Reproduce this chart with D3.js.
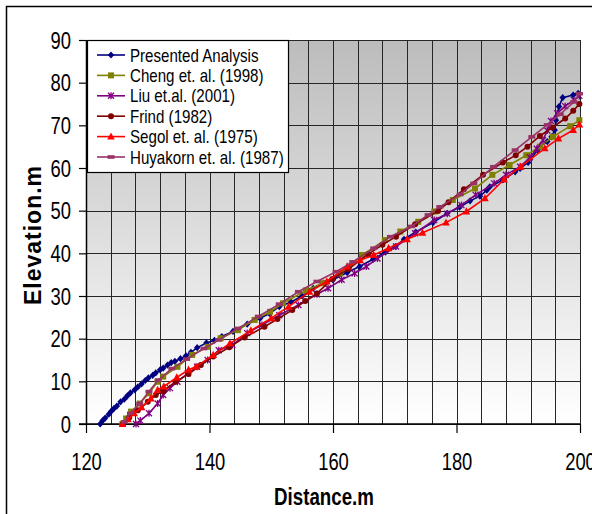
<!DOCTYPE html>
<html>
<head>
<meta charset="utf-8">
<script src="https://cdn.jsdelivr.net/npm/d3@7"></script>
<style>
  html, body { margin: 0; padding: 0; background: #fff; }
  svg { display: block; font-family: "Liberation Sans", Arial, sans-serif; }
</style>
</head>
<body>
<svg id="chart" width="592" height="514"></svg>
<script>
// Free-surface profiles: elevation (m) against distance (m)
const presented = [[122.3,0],[122.7,0.8],[123.1,1.4],[123.7,2.3],[124.1,3.0],[124.5,3.6],[125.0,4.2],[125.6,5.2],[126.2,5.8],[126.7,6.6],[127.2,7.3],[127.9,8.0],[128.4,8.7],[129.0,9.4],[129.6,10.2],[130.1,10.8],[130.8,11.4],[131.3,12.0],[132.0,12.7],[132.5,13.1],[133.2,13.8],[133.8,14.4],[134.4,14.7],[135.3,15.3],[136.2,16.0],[137.0,16.8],[138.0,17.9],[139.5,19.0],[140.8,19.6],[142.0,20.5],[143.8,21.7],[146.1,23.4],[148.2,24.8],[149.7,25.9],[151.3,27.5],[153.2,28.6],[155.0,30.0],[156.8,31.8],[158.5,33.0],[160.0,33.8],[162.3,35.5],[164.3,36.9],[166.5,38.6],[168.5,40.3],[170.1,41.6],[171.5,43.3],[173.4,45.0],[176.2,47.2],[178.5,49.4],[180.5,50.8],[182.2,52.3],[183.8,53.4],[184.9,54.8],[185.4,55.6],[187.5,57.2],[189.5,59.1],[190.3,59.9],[191.6,61.3],[193.1,64.2],[193.5,65.0],[194.7,66.2],[195.4,67.3],[195.9,68.9],[196.1,71.2],[196.6,74.4],[197.2,76.5],[198.9,77.1],[199.7,77.5]];

const cheng = [[125.9,0],[126.5,1.3],[127.3,2.9],[128.7,4.8],[130.2,7.2],[131.6,9.9],[132.5,11.1],[134.8,13.4],[137.2,16.2],[139.7,18.1],[141.8,20.1],[144.6,22.0],[147.3,24.4],[149.8,26.3],[151.9,28.3],[155.6,31.3],[158.3,33.0],[161.1,35.3],[162.6,36.9],[164.7,39.6],[168.4,43.1],[170.9,45.1],[173.8,47.4],[176.4,49.8],[179.4,52.5],[183.0,55.2],[185.8,58.4],[188.6,60.7],[191.3,63.0],[193.5,65.0],[195.6,67.3],[198.4,69.8],[199.9,71.2]];

const liu = [[128.1,0],[128.8,0.8],[130.2,2.5],[131.6,4.8],[132.5,6.8],[133.6,8.4],[134.8,9.9],[136.5,11.9],[138.0,13.4],[139.7,15.0],[141.5,17.3],[143.7,18.5],[146.1,21.3],[148.5,23.2],[151.3,25.5],[154.4,27.9],[157.4,30.4],[159.2,31.8],[161.4,33.8],[163.5,35.3],[165.4,36.9],[167.2,38.8],[170.2,41.6],[173.3,44.7],[176.4,47.8],[178.5,49.3],[180.8,51.3],[183.1,53.7],[186.1,56.4],[188.0,58.4],[190.3,60.3],[191.9,62.5],[193.0,64.5],[194.0,66.5],[194.7,68.8],[195.3,71.0],[196.3,72.8],[197.6,74.5],[199.0,75.9],[199.9,76.9]];

const frind = [[126.0,0],[127.0,1.5],[128.4,3.2],[130.0,5.2],[131.3,6.8],[132.6,7.8],[134.5,9.9],[136.6,11.7],[138.6,13.8],[140.6,15.8],[143.2,18.0],[145.7,20.3],[148.9,22.8],[151.0,24.6],[153.4,26.7],[155.5,28.8],[157.4,30.6],[159.9,34.0],[162.5,36.3],[165.7,39.8],[168.0,42.0],[170.2,43.9],[173.3,46.8],[177.0,49.9],[178.7,52.0],[181.2,55.0],[184.3,58.4],[187.5,61.3],[189.6,63.0],[191.5,65.0],[193.5,67.5],[195.5,69.5],[197.6,71.6],[198.9,73.4],[199.9,75.0]];

const segol = [[125.9,0],[126.8,1.1],[127.8,2.5],[129.0,3.9],[130.5,6.0],[131.6,8.0],[132.6,8.8],[134.7,10.9],[136.6,12.7],[137.8,13.4],[140.6,16.2],[143.3,18.9],[146.7,21.9],[150.0,24.8],[152.8,27.5],[156.2,31.0],[159.0,33.4],[162.3,36.9],[164.4,38.4],[166.6,39.6],[169.0,41.2],[172.0,43.3],[174.5,44.8],[178.3,47.2],[181.6,49.8],[184.6,52.9],[187.7,57.3],[190.4,60.3],[194.3,64.6],[196.5,66.9],[198.9,68.9],[199.9,70.2]];

const huyakorn = [[126.2,0.5],[127.2,2.5],[128.7,4.8],[130.2,7.6],[131.7,10.3],[133.9,13.0],[136.3,15.2],[139.1,17.7],[141.5,19.7],[144.6,22.4],[147.9,25.2],[151.3,28.1],[154.4,31.0],[157.4,33.4],[160.5,35.7],[163.2,38.0],[166.6,41.2],[169.3,43.9],[172.7,46.3],[175.4,49.0],[177.3,50.9],[180.6,53.8],[182.8,56.4],[186.0,60.3],[189.5,64.2],[192.2,67.3],[194.7,70.1],[196.8,72.6],[199.0,75.5],[199.9,77.4]];

const seriesNames = ["Presented Analysis", "Cheng et. al. (1998)", "Liu et.al. (2001)", "Frind (1982)", "Segol et. al. (1975)", "Huyakorn et. al. (1987)"];
const seriesData = [presented, cheng, liu, frind, segol, huyakorn];
const seriesColors = ["#000080", "#808000", "#800080", "#800000", "#ff0000", "#993366"];
const seriesMarkers = ["diamond", "square", "asterisk", "circle", "triangle", "dash"];

const xTicks = [120, 140, 160, 180, 200];
const yTicks = [0, 10, 20, 30, 40, 50, 60, 70, 80, 90];
const xGrid = d3.range(120, 201, 4);

const svg = d3.select("#chart");
const plot = { left: 86, right: 580, top: 40, bottom: 424 };

const x = d3.scaleLinear().domain([120, 200]).range([plot.left, plot.right]);
const y = d3.scaleLinear().domain([0, 90]).range([plot.bottom, plot.top]);

// outer frame
svg.append("path")
  .attr("d", "M6.5,514 V6.5 H592")
  .attr("fill", "none").attr("stroke", "#000").attr("stroke-width", 1.5);

// plot background gradient
const defs = svg.append("defs");
const grad = defs.append("linearGradient").attr("id", "bg")
  .attr("x1", 0).attr("y1", 0).attr("x2", 0).attr("y2", 1);
grad.append("stop").attr("offset", "0%").attr("stop-color", "#bcbcbc");
grad.append("stop").attr("offset", "100%").attr("stop-color", "#ffffff");

svg.append("rect")
  .attr("x", plot.left).attr("y", plot.top)
  .attr("width", plot.right - plot.left).attr("height", plot.bottom - plot.top)
  .attr("fill", "url(#bg)");

// grid
const grid = svg.append("g").attr("stroke", "#262626").attr("stroke-width", 1);
grid.selectAll("line.v").data(xGrid).join("line")
  .attr("x1", d => Math.round(x(d)) + 0.5).attr("x2", d => Math.round(x(d)) + 0.5)
  .attr("y1", plot.top).attr("y2", plot.bottom);
grid.selectAll("line.h").data(yTicks).join("line")
  .attr("y1", d => Math.round(y(d)) + 0.5).attr("y2", d => Math.round(y(d)) + 0.5)
  .attr("x1", plot.left).attr("x2", plot.right);

// axes
const xAxis = d3.axisBottom(x).tickValues(xTicks).tickSize(9).tickSizeOuter(0).tickFormat(d3.format("d"));
const yAxis = d3.axisLeft(y).tickValues(yTicks).tickSize(7).tickSizeOuter(0).tickFormat(d3.format("d"));

const gx = svg.append("g").attr("transform", `translate(0,${plot.bottom})`).call(xAxis);
const gy = svg.append("g").attr("transform", `translate(${plot.left},0)`).call(yAxis);

[gx, gy].forEach(g => {
  g.select(".domain").attr("stroke", "#000").attr("stroke-width", 1.5);
  g.selectAll(".tick line").attr("stroke", "#000").attr("stroke-width", 1.2);
  g.selectAll(".tick text").attr("fill", "#000").attr("font-size", 23)
    .attr("font-family", "'Liberation Sans', Arial, sans-serif");
});
gx.select(".domain").attr("d", `M${plot.left - 7},0H${plot.right}`);
gx.selectAll(".tick text")
  .attr("y", 0).attr("dy", 0)
  .attr("transform", "translate(0,46) scale(0.8,1)");
gy.selectAll(".tick text")
  .attr("x", 0).attr("dy", "0.35em")
  .attr("transform", "translate(-15,0) scale(0.8,1)");

// axis titles
svg.append("text")
  .attr("transform", "translate(324,505) scale(0.78,1)")
  .attr("text-anchor", "middle")
  .attr("font-size", 24).attr("font-weight", "bold")
  .text("Distance.m");

svg.append("text")
  .attr("transform", "translate(41,235) rotate(-90)")
  .attr("text-anchor", "middle")
  .attr("font-size", 23).attr("font-weight", "bold")
  .attr("letter-spacing", 1)
  .text("Elevation.m");

// marker drawing
function drawMarker(g, type, color) {
  switch (type) {
    case "diamond":
      g.append("path").attr("d", "M0,-3.6L3.2,0L0,3.6L-3.2,0Z").attr("fill", color);
      break;
    case "square":
      g.append("rect").attr("x", -3).attr("y", -3).attr("width", 6).attr("height", 6).attr("fill", color);
      break;
    case "asterisk":
      g.append("path").attr("d", "M-3,-3L3,3M-3,3L3,-3M0,-3.5V3.5")
        .attr("stroke", color).attr("stroke-width", 1.3).attr("fill", "none");
      break;
    case "circle":
      g.append("circle").attr("r", 3).attr("fill", color);
      break;
    case "triangle":
      g.append("path").attr("d", "M0,-4.2L3.8,3L-3.8,3Z").attr("fill", color);
      break;
    case "dash":
      g.append("rect").attr("x", -3.5).attr("y", -1.8).attr("width", 7).attr("height", 3.6).attr("fill", color);
      break;
  }
}

const line = d3.line().x(d => x(d[0])).y(d => y(d[1]));

seriesData.forEach((data, i) => {
  const g = svg.append("g");
  g.append("path").datum(data)
    .attr("d", line)
    .attr("fill", "none")
    .attr("stroke", seriesColors[i])
    .attr("stroke-width", 1.6);
  g.selectAll("g.m").data(data).join("g")
    .attr("transform", d => `translate(${x(d[0])},${y(d[1])})`)
    .each(function () { drawMarker(d3.select(this), seriesMarkers[i], seriesColors[i]); });
});

// legend
const legend = svg.append("g");
legend.append("rect")
  .attr("x", 87.5).attr("y", 40.5).attr("width", 201).attr("height", 132)
  .attr("fill", "#fff").attr("stroke", "#000").attr("stroke-width", 1.2);

seriesNames.forEach((name, i) => {
  const ry = 55 + i * 20.4;
  const row = legend.append("g");
  row.append("line")
    .attr("x1", 97).attr("x2", 125).attr("y1", ry).attr("y2", ry)
    .attr("stroke", seriesColors[i]).attr("stroke-width", 1.6);
  drawMarker(row.append("g").attr("transform", `translate(111,${ry})`), seriesMarkers[i], seriesColors[i]);
  row.append("text")
    .attr("transform", `translate(130,${ry + 6.5}) scale(0.84,1)`)
    .attr("font-size", 18)
    .attr("fill", "#000")
    .text(name);
});
</script>
</body>
</html>
